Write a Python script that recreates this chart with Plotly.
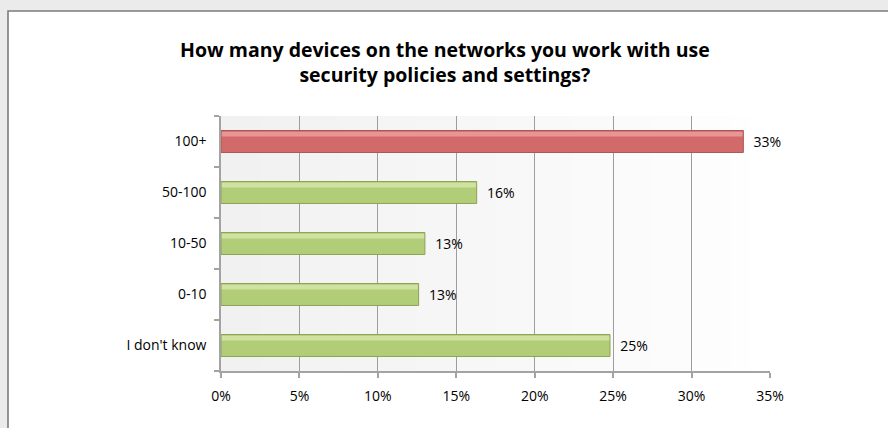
import plotly.graph_objects as go

# Survey answers, listed bottom-to-top as they appear on the axis
categories = ["I don't know", "0-10", "10-50", "50-100", "100+"]
shares = [24.8, 12.6, 13.0, 16.3, 33.3]
x_ticks = [0, 5, 10, 15, 20, 25, 30, 35]
x_tick_labels = ["0%", "5%", "10%", "15%", "20%", "25%", "30%", "35%"]

title_text = ("How many devices on the networks you work with use<br>"
              "security policies and settings?")

# Colours: the top answer is highlighted in red, the rest in green
RED, RED_HI, RED_EDGE = "#d26a6a", "#e99594", "#a85656"
GREEN, GREEN_HI, GREEN_EDGE = "#b2cd78", "#cfe2a0", "#8ea354"
top = max(shares)
base_cols = [RED if v == top else GREEN for v in shares]
hi_cols = [RED_HI if v == top else GREEN_HI for v in shares]
edge_cols = [RED_EDGE if v == top else GREEN_EDGE for v in shares]

W, H = 888, 428
ML, MR, MT, MB = 221, 118, 116, 57
PW, PH = W - ML - MR, H - MT - MB


def px_x(px):
    return (px - ML) / PW


def px_y(py):
    return (H - MB - py) / PH


FONT = "Open Sans"

fig = go.Figure()

# main bars
fig.add_trace(go.Bar(
    y=categories, x=shares, orientation="h",
    width=0.43,
    marker=dict(color=base_cols, line=dict(color=edge_cols, width=1)),
    texttemplate="\u00a0\u00a0%{x:.0f}%", textposition="outside",
    textfont=dict(family=FONT, size=14, color="#000000"),
    cliponaxis=False, hoverinfo="skip", showlegend=False,
))
# glossy strip along the upper part of each bar
fig.add_trace(go.Bar(
    y=categories, x=[v - 0.1 for v in shares], orientation="h",
    width=0.09, offset=0.1, base=0.05,
    marker=dict(color=hi_cols, line=dict(width=0)),
    hoverinfo="skip", showlegend=False,
))

shapes = []
# chart frame on a light grey page
shapes.append(dict(type="rect", xref="paper", yref="paper", layer="below",
                   x0=px_x(8), x1=px_x(W + 20), y0=px_y(H + 20), y1=px_y(11),
                   fillcolor="#ffffff", line=dict(color="#7c7c7c", width=1.6)))
# soft left-to-right shading of the plotting area
n = 28
for i in range(n):
    t = i / (n - 1)
    c = int(241 + (255 - 241) * t)
    shapes.append(dict(type="rect", xref="x domain", yref="y domain", layer="below",
                       x0=i / n, x1=(i + 1) / n + 0.002, y0=0, y1=1,
                       fillcolor=f"rgb({c},{c},{c})", line=dict(width=0)))

fig.update_layout(
    width=W, height=H,
    margin=dict(l=ML, r=MR, t=MT, b=MB),
    paper_bgcolor="#ebebeb",
    plot_bgcolor="rgba(0,0,0,0)",
    barmode="overlay",
    shapes=shapes,
    font=dict(family=FONT, size=14, color="#000000"),
    title=dict(text=title_text, xref="container", x=0.501, xanchor="center",
               yref="container", y=1 - 57 / H, yanchor="top",
               font=dict(family=FONT, size=19.5, color="#000000", weight="bold")),
    xaxis=dict(range=[0, 35], tickvals=x_ticks, ticktext=x_tick_labels,
               showgrid=True, gridcolor="#9d9d9d", gridwidth=1,
               showline=True, linecolor="#a3a3a3", linewidth=1.5,
               ticks="outside", ticklen=5, tickcolor="#a3a3a3", tickwidth=1.5,
               ticklabelstandoff=6,
               zeroline=False, tickfont=dict(family=FONT, size=14)),
    yaxis=dict(categoryorder="array", categoryarray=categories,
               showline=True, linecolor="#a3a3a3", linewidth=1.5,
               ticks="outside", ticklen=5, tickcolor="#a3a3a3", tickwidth=1.5,
               tickson="boundaries", showgrid=False, zeroline=False,
               ticklabelstandoff=10, tickfont=dict(family=FONT, size=14)),
)

fig.write_html("out.html")
